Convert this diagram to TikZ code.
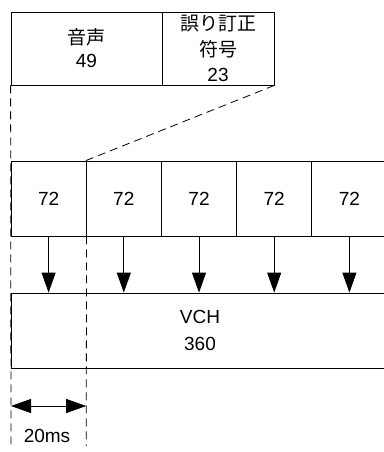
\documentclass[tikz,border=0pt]{standalone}
\usepackage{fontspec}
\setmainfont{Liberation Sans}
\newfontfamily\jpfont{Noto Sans CJK JP}
\usetikzlibrary{arrows.meta}

\begin{document}
\begin{tikzpicture}[x=1pt, y=-1pt, line width=0.8pt,
    box/.style={draw, inner sep=0pt, align=center, font=\fontsize{19}{23}\selectfont},
    guide/.style={dash pattern=on 8pt off 5pt},
    flow/.style={-{Triangle[length=20pt,width=14pt]}},
    span/.style={{Triangle[length=20pt,width=14pt]}-{Triangle[length=20pt,width=14pt]}}]
        \useasboundingbox (0,0) rectangle (383,452);

        % Frame: voice + error correction code
        \node[box, minimum width=151pt, minimum height=73pt] (voice) at (86.5,48.5) {{\jpfont 音声}\\49};
        \node[box, minimum width=112pt, minimum height=73pt, font=\fontsize{19}{25.5}\selectfont] (ecc) at (218,48.5) {{\jpfont 誤り訂正}\\{\jpfont 符号}\\23};

        % Slots of 72
        \node[box, minimum width=75.2pt, minimum height=75pt] (c1) at (48.6,198.5) {72};
        \node[box, minimum width=75.2pt, minimum height=75pt] (c2) at (123.8,198.5) {72};
        \node[box, minimum width=75.2pt, minimum height=75pt] (c3) at (199,198.5) {72};
        \node[box, minimum width=75.2pt, minimum height=75pt] (c4) at (274.2,198.5) {72};
        \node[box, minimum width=75.2pt, minimum height=75pt] (c5) at (349.4,198.5) {72};

        % Voice channel
        \node[box, minimum width=378pt, minimum height=75pt, font=\fontsize{19}{27}\selectfont] (vch) at (200,330.5) {VCH\\360};

        % Guide lines
        \coordinate (leftEnd) at (11,446);
        \coordinate (midEnd) at (86.2,446);
        \draw[guide] (voice.south west) -- (leftEnd);
        \draw[guide] (c1.south east) -- (midEnd);
        \draw[guide] (ecc.south east) -- (c2.north west);

        % Mapping arrows
        \draw[flow] (c1.south) -- (c1.south |- vch.north);
        \draw[flow] (c2.south) -- (c2.south |- vch.north);
        \draw[flow] (c3.south) -- (c3.south |- vch.north);
        \draw[flow] (c4.south) -- (c4.south |- vch.north);
        \draw[flow] (c5.south) -- (c5.south |- vch.north);

        % Frame length
        \coordinate (spanL) at (11,406);
        \coordinate (spanR) at (86.2,406);
        \draw[span] (spanL) -- (spanR);
        \node[font=\fontsize{19}{23}\selectfont] (ms) at (47,436) {20ms};
      \end{tikzpicture}
\end{document}
